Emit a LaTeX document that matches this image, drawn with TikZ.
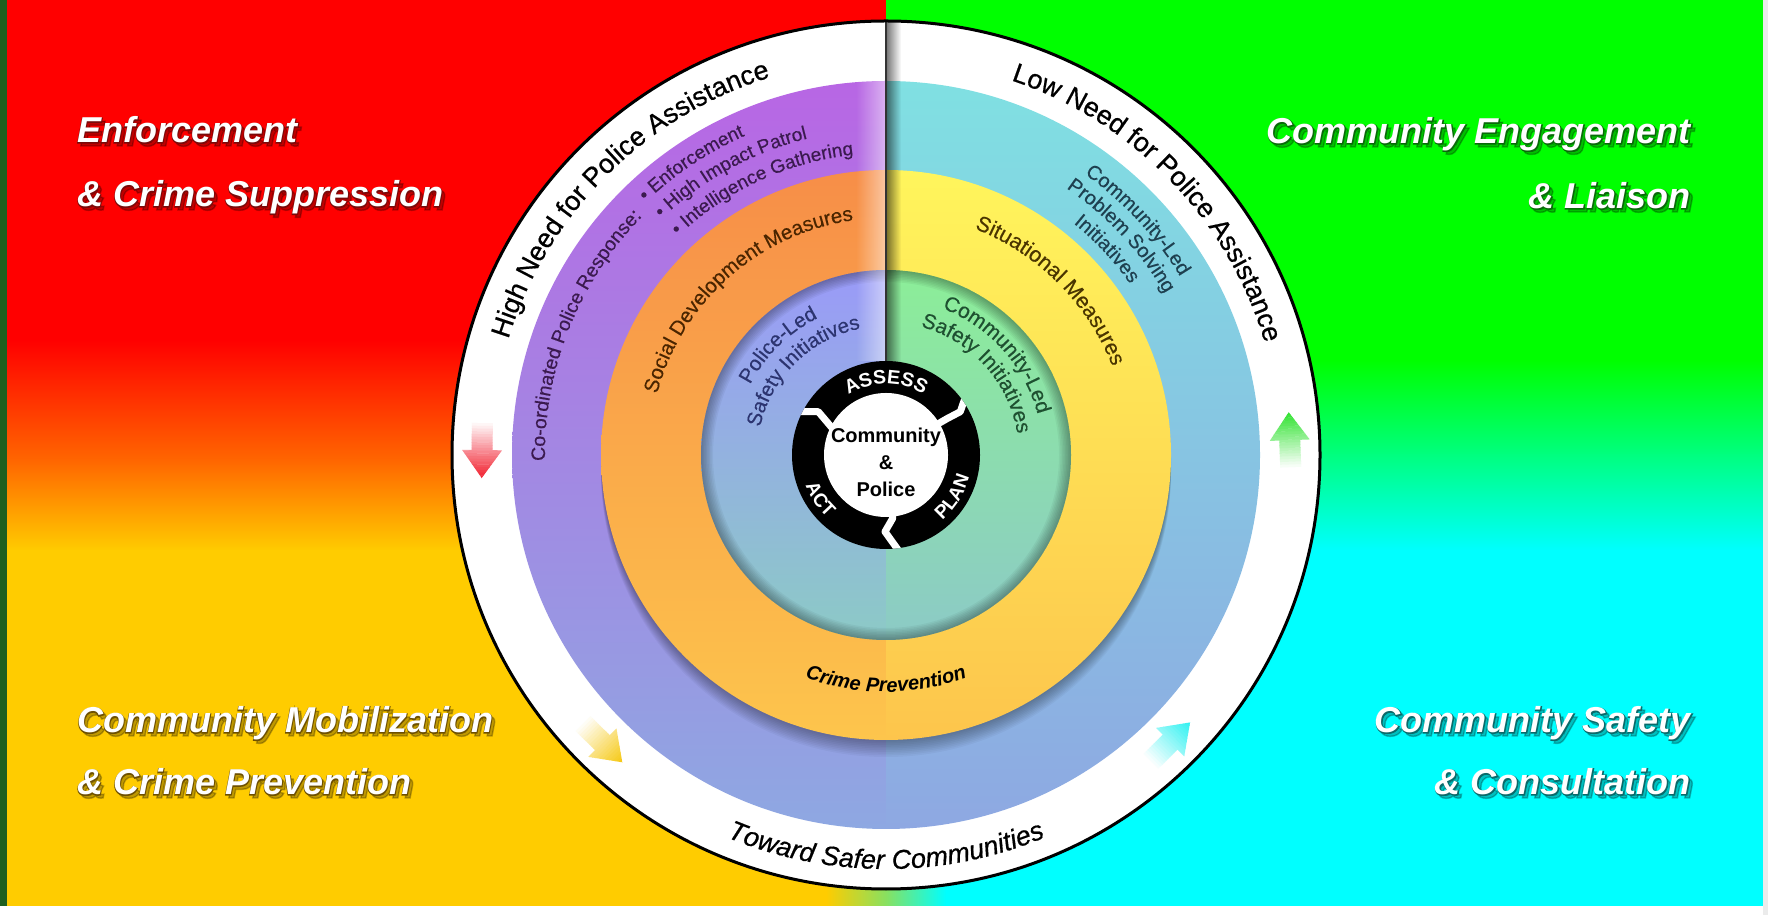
\documentclass[tikz,border=0pt]{standalone}
\usepackage{fontspec}
\setmainfont{Liberation Sans}
\usetikzlibrary{decorations.text,fadings}
\definecolor{bgRed}{HTML}{FF0000}
\definecolor{bgOrange}{HTML}{FF6600}
\definecolor{bgGold}{HTML}{FFCC00}
\definecolor{bgGreen}{HTML}{00FF00}
\definecolor{bgMint}{HTML}{00FF80}
\definecolor{bgCyan}{HTML}{00FFFF}
\definecolor{bgBlend}{HTML}{88E060}
\definecolor{edgeGreen}{HTML}{1F5F1F}
\definecolor{purpTop}{HTML}{B866E4}
\definecolor{bandBot}{HTML}{8EA8E2}
\definecolor{cyanTop}{HTML}{80E0E2}
\definecolor{orTop}{HTML}{F78E48}
\definecolor{orBot}{HTML}{FDC54C}
\definecolor{yeTop}{HTML}{FFF55C}
\definecolor{inLTop}{HTML}{9A9AF8}
\definecolor{inBot}{HTML}{8CCAC6}
\definecolor{inRTop}{HTML}{8CEE98}
\definecolor{txtPurple}{HTML}{3B1A4F}
\definecolor{txtBrown}{HTML}{4A2500}
\definecolor{txtBrownB}{HTML}{4A3500}
\definecolor{txtSlate}{HTML}{1E4050}
\definecolor{txtNavy}{HTML}{2C3470}
\definecolor{txtGreen}{HTML}{1E5030}
\definecolor{olRed}{HTML}{7A0A0A}
\definecolor{olGreen}{HTML}{0A6A0A}
\definecolor{olGold}{HTML}{6E5000}
\definecolor{olTeal}{HTML}{0A6A6A}
\definecolor{arRed}{HTML}{F01020}
\definecolor{arGreen}{HTML}{20E020}
\definecolor{arGold}{HTML}{F5C400}
\definecolor{arCyan}{HTML}{20F0F0}
\tikzfading[name=fadeR, left color=transparent!0, right color=transparent!100]
\tikzfading[name=fadeL, left color=transparent!100, right color=transparent!0]
\tikzset{
  cornerfont/.style={font=\fontsize{36}{36}\selectfont\bfseries\itshape, inner sep=0pt},
  cornerline/.style={font=\fontsize{36}{36}\selectfont\bfseries\itshape\addfontfeatures{FakeBold=4}, inner sep=0pt},
  centerfont/.style={font=\fontsize{20}{24}\selectfont\bfseries, inner sep=0pt, anchor=base},
}
\newcommand{\glowtext}[6]{%
  \node[cornerline, text=black, opacity=0.25, anchor=#4] (#1s) at (#2+3,#3-3) {#6};
  \node[cornerline, text=#5, anchor=#4] (#1o) at (#2,#3) {#6};
  \node[cornerfont, text=white, anchor=#4] (#1) at (#2,#3) {#6};}
\newcommand{\halfL}[3]{\shade[top color=#2, bottom color=#3] (0,#1) arc[start angle=90, end angle=270, radius=#1] -- cycle;}
\newcommand{\halfR}[3]{\shade[top color=#2, bottom color=#3] (0,#1) arc[start angle=90, end angle=-90, radius=#1] -- cycle;}
\newcommand{\ringarrow}[3]{%
  \begin{scope}[shift={(#1:404)}, rotate=#2]
    \clip (-27,-10.5) -- (0,-10.5) -- (0,-20) -- (28,0) -- (0,20) -- (0,10.5) -- (-27,10.5) -- cycle;
    \foreach \i in {0,...,21}{\pgfmathtruncatemacro\arrpct{4+\i*4.6}\fill[#3!\arrpct!white] ({-27+\i*2.75},-21) rectangle ++(3.1,42);}
  \end{scope}}
\newcommand{\arctext}[6]{%
  \path[decorate, decoration={text along path, text align=#4, text color=#5, text={#6}}]
    (#1:#3) arc[start angle=#1, end angle=#2, radius=#3];}
\newcommand{\bandfont}[1]{\fontsize{#1}{#1}\selectfont\addfontfeatures{FakeBold=0.3}}
\begin{document}
\begin{tikzpicture}[x=1pt,y=1pt]
\useasboundingbox (0,0) rectangle (1768,915);
% background quadrants
\fill[bgRed] (0,574) rectangle (887,915);
\shade[top color=bgRed, bottom color=bgOrange] (0,454) rectangle (887,575);
\shade[top color=bgOrange, bottom color=bgGold] (0,364) rectangle (887,455);
\fill[bgGold] (0,9) rectangle (887,365);
\fill[bgGreen] (886,554) rectangle (1768,915);
\shade[top color=bgGreen, bottom color=bgMint] (886,459) rectangle (1768,555);
\shade[top color=bgMint, bottom color=bgCyan] (886,364) rectangle (1768,460);
\fill[bgCyan] (886,9) rectangle (1768,365);
\shade[left color=bgGold, right color=bgCyan, middle color=bgBlend] (826,9) rectangle (946,200);
\fill[white] (0,0) rectangle (1768,9);
\fill[white!92!black] (1763,0) rectangle (1768,915);
\fill[edgeGreen] (0,9) rectangle (7,915);

\begin{scope}[shift={(886,460)}]
  \fill[white] (0,0) circle (434);
  \halfL{374}{purpTop}{bandBot}
  \halfR{374}{cyanTop}{bandBot}
  \foreach \k in {1,...,10}{\fill[black, fill opacity=0.035] (0,{-1.7*\k}) circle (285);}
  \halfL{285}{orTop}{orBot}
  \halfR{285}{yeTop}{orBot}
  \halfL{185}{inLTop}{inBot}
  \halfR{185}{inRTop}{inBot}
  \begin{scope}
    \clip (0,0) circle (185);
    \foreach \w in {3,6,...,24}{\draw[black, draw opacity=0.045, line width=\w] (0,0) circle (185);}
  \end{scope}
  % divider bevel
  \fill[white, path fading=fadeL, fill opacity=0.5] (-30,94) rectangle (0,374);
  \begin{scope}
    \clip (0,0) circle (434);
    \fill[black, path fading=fadeR, fill opacity=0.55] (0,90) rectangle (15,440);
  \end{scope}
  \draw[black!80, line width=1.5] (0,94) -- (0,433);
  % cycle ring
  \fill[black] (0,0) circle (94);
  \fill[white] (0,0) circle (62);
  \begin{scope}
    \clip (0,0) circle (94);
    \draw[white, line width=7, line join=round] (-98,43.3) -- (-67.7,43.3) -- (-55,28.3) -- (-45,20);
    \draw[white, line width=7, line join=round] (81,63) -- (74.3,43.3) -- (61.7,36.7) -- (50,30);
    \draw[white, line width=7, line join=round] (15,-99) -- (-1,-76.7) -- (6.7,-63.3) -- (6,-55);
  \end{scope}
  \node[centerfont] (comm) at (0,12) {Community};
  \node[centerfont] (amp) at (0,-15) {\&};
  \node[centerfont] (pol) at (0,-42) {Police};
  \arctext{150}{30}{71}{center}{white}{|\fontsize{19.5}{19.5}\selectfont\bfseries|ASSESS}
  \arctext{-80}{16}{86}{center}{white}{|\fontsize{19}{19}\selectfont\bfseries|PLAN}
  \arctext{166}{262}{86}{center}{white}{|\fontsize{19}{19}\selectfont\bfseries|ACT}
  % ring texts
  \arctext{170}{100}{395}{center}{black}{|\fontsize{27}{27}\selectfont\addfontfeatures{FakeBold=0.6}|High Need for Police Assistance}
  \arctext{79}{9}{395}{center}{black}{|\fontsize{27}{27}\selectfont\addfontfeatures{FakeBold=0.6}|Low Need for Police Assistance}
  \arctext{225}{315}{414}{center}{black}{|\fontsize{27}{27}\selectfont\itshape\addfontfeatures{FakeBold=0.6}|Toward Safer Communities}
  \arctext{235}{305}{237}{center}{black}{|\fontsize{20}{20}\selectfont\bfseries\itshape|Crime Prevention}
  \arctext{181}{110}{341}{left}{txtPurple}{|\bandfont{19.5}|Co-ordinated Police Response:}
  \arctext{133.5}{70}{349}{left}{txtPurple}{|\bandfont{19}|• Enforcement}
  \arctext{133.5}{70}{326}{left}{txtPurple}{|\bandfont{19}|• High Impact Patrol}
  \arctext{133.5}{70}{302}{left}{txtPurple}{|\bandfont{19}|• Intelligence Gathering}
  \arctext{178}{85}{237}{center}{txtBrown}{|\bandfont{20.5}|Social Development Measures}
  \arctext{90}{0}{243}{center}{txtBrownB}{|\bandfont{21.5}|Situational Measures}
  \arctext{80}{6}{344}{center}{txtSlate}{|\bandfont{20}|Community-Led}
  \arctext{80}{6}{322}{center}{txtSlate}{|\bandfont{20}|Problem Solving}
  \arctext{80}{6}{298}{center}{txtSlate}{|\bandfont{20}|Initiatives}
  \arctext{190}{79}{153}{center}{txtNavy}{|\bandfont{20.5}|Police-Led}
  \arctext{190}{79}{129}{center}{txtNavy}{|\bandfont{20.5}|Safety Initiatives}
  \arctext{105}{-21}{157}{center}{txtGreen}{|\bandfont{21}|Community-Led}
  \arctext{105}{-21}{133}{center}{txtGreen}{|\bandfont{21}|Safety Initiatives}
  % arrows
  \ringarrow{179.3}{269.3}{arRed}
  \ringarrow{2.1}{92.1}{arGreen}
  \ringarrow{225.4}{315.4}{arGold}
  \ringarrow{-45.3}{44.7}{arCyan}
  \draw[black, line width=3] (0,0) circle (434);
\end{scope}

% corner captions
\glowtext{tl1}{77}{772}{base west}{olRed}{Enforcement}
\glowtext{tl2}{77}{708}{base west}{olRed}{\& Crime Suppression}
\glowtext{tr1}{1691}{771}{base east}{olGreen}{Community Engagement}
\glowtext{tr2}{1691}{706}{base east}{olGreen}{\& Liaison}
\glowtext{bl1}{77}{182}{base west}{olGold}{Community Mobilization}
\glowtext{bl2}{77}{120}{base west}{olGold}{\& Crime Prevention}
\glowtext{br1}{1691}{182}{base east}{olTeal}{Community Safety}
\glowtext{br2}{1691}{120}{base east}{olTeal}{\& Consultation}
\end{tikzpicture}
\end{document}
